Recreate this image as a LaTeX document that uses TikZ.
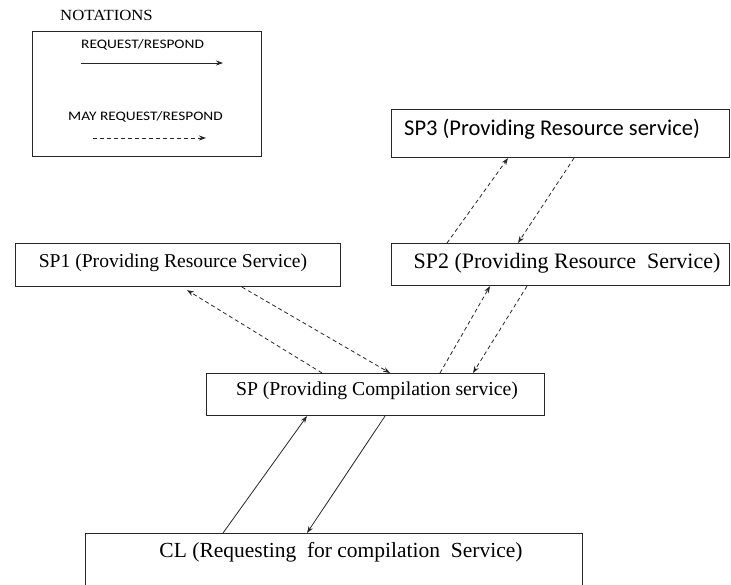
\documentclass[tikz,border=0pt]{standalone}
\usepackage{fontspec}
\setmainfont{Liberation Serif}
\newfontfamily\calfont{Carlito}
\usetikzlibrary{arrows.meta,calc}
\begin{document}
\begin{tikzpicture}[x=1pt,y=-1pt,
  box/.style={draw=black!85,line width=1.1pt,inner sep=0pt},
  req/.style={draw=black!85,line width=0.8pt,-{Stealth[length=7pt,width=5pt]}},
  mayreq/.style={req,dash pattern=on 4pt off 3pt}]
\useasboundingbox (0,0) rectangle (731,585);
\clip (0,0) rectangle (731,585);
% notation
\node[anchor=west,xscale=1.08,font=\fontsize{15.5}{16}\selectfont,inner sep=0pt] (nt) at (60,15) {NOTATIONS};
\node[box,minimum width=229,minimum height=125,anchor=north west] (leg) at (32,31) {};
\node[anchor=west,xscale=1.18,font=\calfont\fontsize{13}{14}\selectfont,inner sep=0pt] (l1) at (81,45) {REQUEST/RESPOND};
\coordinate (s1) at (81,63); \coordinate (e1) at (223,63);
\draw[req] (s1) -- (e1);
\node[anchor=west,xscale=1.18,font=\calfont\fontsize{13}{14}\selectfont,inner sep=0pt] (l2) at (68,117) {MAY REQUEST/RESPOND};
\coordinate (s2) at (93,138); \coordinate (e2) at (206,138);
\draw[mayreq] (s2) -- (e2);
% boxes
\node[box,minimum width=338,minimum height=48,anchor=north west] (sp3) at (391,109) {};
\node[anchor=west,inner sep=0pt,font=\calfont\fontsize{22.5}{24}\selectfont] (t3) at (404,129) {SP3 (Providing Resource service)};
\node[box,minimum width=338,minimum height=42,anchor=north west] (sp2) at (391,243) {};
\node[font=\fontsize{22}{24}\selectfont] (t2) at (567,263) {SP2 (Providing Resource\ \ Service)};
\node[box,minimum width=325,minimum height=43,anchor=north west] (sp1) at (15,243) {};
\node[font=\fontsize{19.6}{22}\selectfont] (t1) at (173,263) {SP1 (Providing Resource Service)};
\node[box,minimum width=338,minimum height=42,anchor=north west] (sp) at (206,373) {};
\node[font=\fontsize{19.7}{22}\selectfont] (t0) at (377,391) {SP (Providing Compilation service)};
\node[box,minimum width=497,minimum height=70,anchor=north west] (cl) at (85,533) {};
\node[font=\fontsize{21.5}{24}\selectfont] (tc) at (341,552) {CL (Requesting\ \ for compilation\ \ Service)};
% connectors
\draw[mayreq] ([xshift=116pt]sp.north west) -- ([xshift=172pt,yshift=-3pt]sp1.south west);
\draw[mayreq] ([xshift=227pt]sp1.south west) -- ([xshift=184pt]sp.north west);
\draw[mayreq] ([xshift=234pt]sp.north west) -- ([xshift=99pt]sp2.south west);
\draw[mayreq] ([xshift=136pt]sp2.south west) -- ([xshift=267pt]sp.north west);
\draw[mayreq] ([xshift=56pt]sp2.north west) -- ([xshift=117pt]sp3.south west);
\draw[mayreq] ([xshift=183pt]sp3.south west) -- ([xshift=127pt]sp2.north west);
\draw[req] ([xshift=138pt]cl.north west) -- ([xshift=101pt]sp.south west);
\draw[req] ([xshift=179pt]sp.south west) -- ([xshift=222pt]cl.north west);
\end{tikzpicture}
\end{document}
